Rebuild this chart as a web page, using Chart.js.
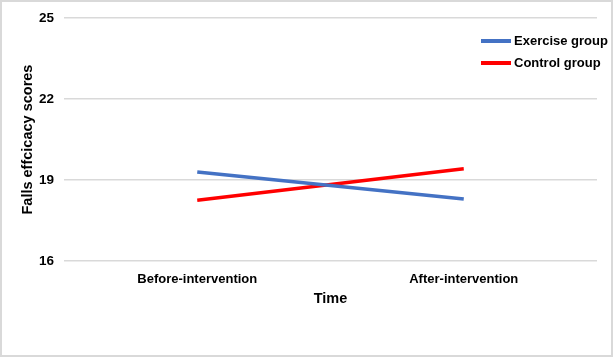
<!DOCTYPE html>
<html>
<head>
<meta charset="utf-8">
<script src="https://cdn.jsdelivr.net/npm/chart.js@4.4.1/dist/chart.umd.min.js"></script>
<style>
html,body{margin:0;padding:0;background:#fff;}
#wrap{width:613px;height:357px;position:relative;}
</style>
</head>
<body>
<div id="wrap"><canvas id="c" width="613" height="357"></canvas></div>
<script>
const categories = ["Before-intervention", "After-intervention"];
const exerciseGroup = [19.3, 18.3];
const controlGroup = [18.25, 19.42];
const seriesNames = ["Exercise group", "Control group"];
const yTicks = [16, 19, 22, 25];

const FONT = "'Liberation Sans', Arial, sans-serif";

const legendPlugin = {
  id: 'customLegend',
  afterDraw(chart) {
    const ctx = chart.ctx;
    ctx.save();
    chart.data.datasets.forEach((ds, i) => {
      const y = 41 + i * 22;
      ctx.strokeStyle = ds.borderColor;
      ctx.lineWidth = 4;
      ctx.beginPath();
      ctx.moveTo(481, y);
      ctx.lineTo(511, y);
      ctx.stroke();
      ctx.fillStyle = '#000';
      ctx.font = "bold 13px " + FONT;
      ctx.textBaseline = 'middle';
      ctx.textAlign = 'left';
      ctx.fillText(ds.label, 514, y);
    });
    ctx.restore();
  }
};

const borderPlugin = {
  id: 'outerBorder',
  afterDraw(chart) {
    const ctx = chart.ctx;
    ctx.save();
    ctx.strokeStyle = '#d9d9d9';
    ctx.lineWidth = 2;
    ctx.strokeRect(1, 1, chart.width - 2, chart.height - 2);
    ctx.restore();
  }
};

new Chart(document.getElementById('c'), {
  type: 'line',
  data: {
    labels: categories,
    datasets: [
      { label: seriesNames[0], data: exerciseGroup, borderColor: '#4472C4', backgroundColor: '#4472C4', borderWidth: 3.5, pointRadius: 0, tension: 0 },
      { label: seriesNames[1], data: controlGroup, borderColor: '#FF0000', backgroundColor: '#FF0000', borderWidth: 3.5, pointRadius: 0, tension: 0 }
    ]
  },
  options: {
    responsive: false,
    animation: false,
    devicePixelRatio: 1,
    layout: { padding: { left: 15, top: 17, right: 16, bottom: 45 } },
    plugins: { legend: { display: false }, tooltip: { enabled: false } },
    scales: {
      x: {
        offset: true,
        grid: { display: false },
        border: { display: false },
        ticks: { color: '#000', font: { family: FONT, size: 13, weight: 'bold' }, padding: 3, maxRotation: 0 },
        title: { display: true, text: 'Time', color: '#000', font: { family: FONT, size: 14.5, weight: 'bold' }, padding: { top: 4, bottom: 4 } },
        afterFit(scale) { scale.height = 51; }
      },
      y: {
        min: 16, max: 25,
        afterBuildTicks(scale) { scale.ticks = yTicks.map(v => ({ value: v })); },
        grid: { color: '#d9d9d9', lineWidth: 1.5, drawTicks: false },
        border: { display: false },
        ticks: { color: '#000', font: { family: FONT, size: 13.5, weight: 'bold' }, padding: 10 },
        title: { display: true, text: 'Falls effcicacy scores', color: '#000', font: { family: FONT, size: 14.5, weight: 'bold' }, padding: { top: 4, bottom: 4 } },
        afterFit(scale) { scale.width = 49; }
      }
    }
  },
  plugins: [legendPlugin, borderPlugin]
});
</script>
</body>
</html>
